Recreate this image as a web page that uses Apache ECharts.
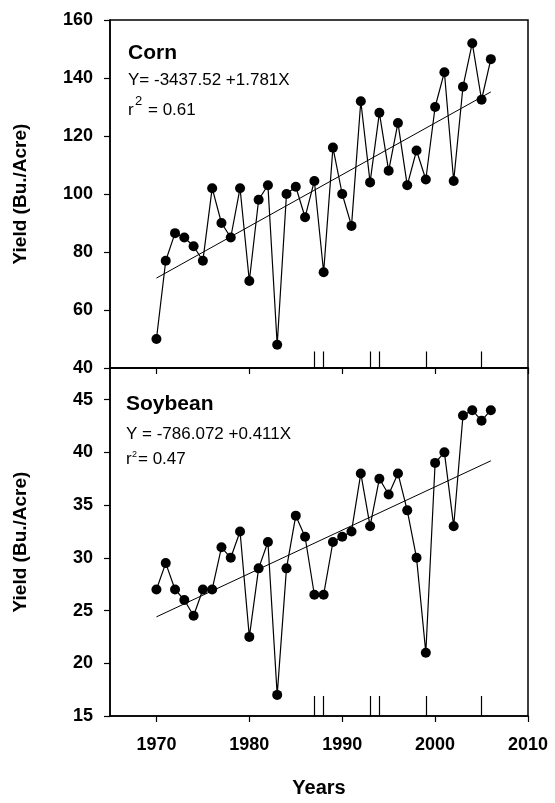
<!DOCTYPE html>
<html><head><meta charset="utf-8">
<script src="https://cdn.jsdelivr.net/npm/echarts@6/dist/echarts.min.js"></script>
<style>html,body{margin:0;padding:0;background:#fff}#c{width:555px;height:803px}</style>
</head><body><div id="c"></div>
<script>
var years = [1970,1971,1972,1973,1974,1975,1976,1977,1978,1979,1980,1981,1982,1983,1984,1985,1986,1987,1988,1989,1990,1991,1992,1993,1994,1995,1996,1997,1998,1999,2000,2001,2002,2003,2004,2005,2006];
var cornYield = [50,77,86.5,85,82,77,102,90,85,102,70,98,103,48,100,102.5,92,104.5,73,116,100,89,132,104,128,108,124.5,103,115,105,130,142,104.5,137,152,132.5,146.5];
var soyYield = [27,29.5,27,26,24.5,27,27,31,30,32.5,22.5,29,31.5,17,29,34,32,26.5,26.5,31.5,32,32.5,38,33,37.5,36,38,34.5,30,21,39,40,33,43.5,44,43,44];
var cornTrendYears = [1970,2006];
var cornTrend = [71.0,135.2];
var soyTrendYears = [1970,2006];
var soyTrend = [24.4,39.2];
var markYears = [1987,1988,1993,1994,1999,2005];
var xTicks = [1970,1980,1990,2000,2010];
var cornTicks = [40,60,80,100,120,140,160];
var soyTicks = [15,20,25,30,35,40,45];

var FONT = "'Liberation Sans', Arial, sans-serif";
function pairs(xs, ys){ return xs.map(function(x,i){return [x, ys[i]];}); }
function marks(y0, y1){
  return markYears.map(function(yr){ return [{coord:[yr,y0]},{coord:[yr,y1]}]; });
}
function xAxis(gi, showLabels){
  return {type:'value', gridIndex:gi, min:1965, max:2010,
    axisLine:{show:true, onZero:false, lineStyle:{color:'#000',width:1.5}},
    axisTick:{show:true, length:6, inside:false, customValues:xTicks, lineStyle:{color:'#000',width:1.2}},
    axisLabel:{show:showLabels, customValues:xTicks, margin:20, color:'#000', fontSize:18, fontWeight:'bold', fontFamily:FONT,
      formatter:function(v){return String(v);}},
    splitLine:{show:false},
    name: showLabels ? 'Years' : '', nameLocation:'middle', nameGap:62,
    nameTextStyle:{color:'#000', fontSize:20, fontWeight:'bold', fontFamily:FONT}
  };
}
function yAxis(gi, mn, mx, ticks){
  return {type:'value', gridIndex:gi, min:mn, max:mx,
    axisLine:{show:true, onZero:false, lineStyle:{color:'#000',width:1.5}},
    axisTick:{show:true, length:6, inside:false, customValues:ticks, lineStyle:{color:'#000',width:1.2}},
    axisLabel:{customValues:ticks, margin:17, color:'#000', fontSize:18, fontWeight:'bold', fontFamily:FONT},
    splitLine:{show:false},
    name:'Yield (Bu./Acre)', nameLocation:'middle', nameGap:80,
    nameTextStyle:{color:'#000', fontSize:19, fontWeight:'bold', fontFamily:FONT}
  };
}
function txt(x, y, s, size, bold){
  return {type:'text', left:x, top:y, style:{text:s, fill:'#000', font:(bold?'bold ':'')+size+'px '+FONT}};
}
var chart = echarts.init(document.getElementById('c'), null, {renderer:'canvas'});
chart.setOption({
  animation:false,
  backgroundColor:'#fff',
  grid:[
    {left:110, top:20, width:418, height:348, show:true, borderColor:'#000', borderWidth:1.5},
    {left:110, top:368, width:418, height:348, show:true, borderColor:'#000', borderWidth:1.5}
  ],
  xAxis:[xAxis(0,false), xAxis(1,true)],
  yAxis:[yAxis(0,40,160,cornTicks), yAxis(1,15,48,soyTicks)],
  series:[
    {type:'line', xAxisIndex:0, yAxisIndex:0, data:pairs(years,cornYield), symbol:'circle', symbolSize:10,
     itemStyle:{color:'#000'}, lineStyle:{color:'#000', width:1.2},
     markLine:{silent:true, symbol:'none', label:{show:false}, lineStyle:{color:'#000', type:'solid', width:1.2}, data:marks(40,45.7)}},
    {type:'line', xAxisIndex:0, yAxisIndex:0, data:pairs(cornTrendYears,cornTrend), symbol:'none',
     lineStyle:{color:'#000', width:1}},
    {type:'line', xAxisIndex:1, yAxisIndex:1, data:pairs(years,soyYield), symbol:'circle', symbolSize:10,
     itemStyle:{color:'#000'}, lineStyle:{color:'#000', width:1.2},
     markLine:{silent:true, symbol:'none', label:{show:false}, lineStyle:{color:'#000', type:'solid', width:1.2}, data:marks(15,16.9)}},
    {type:'line', xAxisIndex:1, yAxisIndex:1, data:pairs(soyTrendYears,soyTrend), symbol:'none',
     lineStyle:{color:'#000', width:1}}
  ],
  graphic:[
    txt(128,43,'Corn',21,true),
    txt(128,72,'Y= -3437.52 +1.781X',17,false),
    txt(128,102,'r',17,false),
    txt(135,95,'2',13,false),
    txt(148,102,'= 0.61',17,false),
    txt(126,394,'Soybean',21,true),
    txt(126,426,'Y = -786.072 +0.411X',17,false),
    txt(126,451,'r',17,false),
    txt(132,450,'2',9,false),
    txt(138,451,'= 0.47',17,false)
  ]
});
</script></body></html>
